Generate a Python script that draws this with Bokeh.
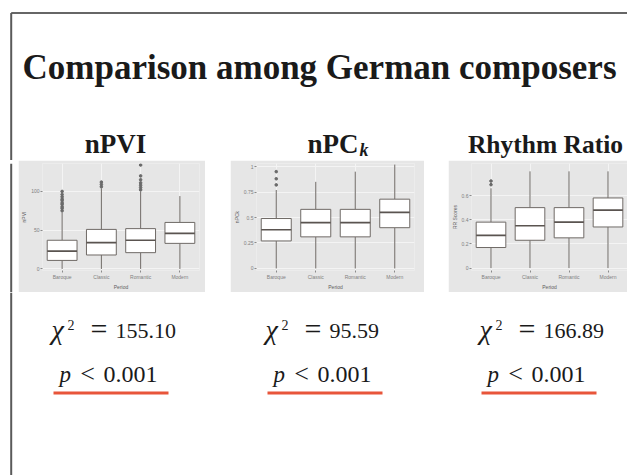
from bokeh.plotting import figure
from bokeh.models import ColumnDataSource, Range1d, FactorRange, Spacer, FixedTicker
from bokeh.layouts import column, row
from bokeh.core.properties import value
from bokeh.embed import file_html
from bokeh.resources import INLINE

# ---------------- data ----------------
title_text = "Comparison among German composers"
panel_titles = ["nPVI", "nPC", "Rhythm Ratio"]
npc_subscript = "k"
periods = ["Baroque", "Classic", "Romantic", "Modern"]
x_axis_title = "Period"
y_axis_titles = ["nPVI", "nPCk", "RR Scores"]

npvi_low = [0, 0, 0, 0]
npvi_q1 = [11, 18, 21, 33]
npvi_med = [23, 34, 37, 46]
npvi_q3 = [37, 51, 52, 60]
npvi_high = [73, 104, 100, 94]
npvi_out_cat = ["Baroque"] * 10 + ["Classic"] * 3 + ["Romantic"] * 7
npvi_out_val = [75, 78, 80, 83, 85, 88, 90, 93, 96, 100,
                106, 109, 112,
                102, 105, 108, 111, 115, 120, 134]
npvi_ticks = [0, 50, 100]

npc_low = [0, 0, 0, 0]
npc_q1 = [0.27, 0.31, 0.31, 0.40]
npc_med = [0.38, 0.45, 0.45, 0.55]
npc_q3 = [0.49, 0.58, 0.58, 0.68]
npc_high = [0.77, 0.85, 0.95, 1.02]
npc_out_cat = ["Baroque"] * 3
npc_out_val = [0.82, 0.88, 0.95]
npc_ticks = [0, 0.25, 0.5, 0.75, 1.0]

rr_low = [0, 0, 0, 0]
rr_q1 = [0.17, 0.23, 0.25, 0.34]
rr_med = [0.27, 0.35, 0.38, 0.48]
rr_q3 = [0.38, 0.50, 0.50, 0.58]
rr_high = [0.66, 0.80, 0.80, 0.80]
rr_out_cat = ["Baroque"] * 2
rr_out_val = [0.69, 0.72]
rr_ticks = [0, 0.2, 0.4, 0.6]

chi_symbol = "χ"
chi_power = "2"
chi_values = ["155.10", "95.59", "166.89"]
p_symbol = "p"
p_sign = "<"
p_values = ["0.001", "0.001", "0.001"]

# ---------------- styles ----------------
SERIF = value("Liberation Serif")
BOX_LINE = "#6f6a66"
PANEL_BG = "#e6e6e6"
RED = "#e8553a"
BORDER = "#5a5a5a"
INK = "#1a1a1a"
W = 627
BASE_SHIFT = 0.33  # fraction of font size by which the drawn baseline falls below y


def deco_fig(width, height, xr, yr):
    f = figure(width=width, height=height, x_range=xr, y_range=yr,
               toolbar_location=None, output_backend="svg",
               min_border=0, outline_line_color=None)
    f.axis.visible = False
    f.grid.visible = False
    return f


def put_text(f, xs, base, texts, size, style="normal", align="left"):
    f.text(x=xs, y=[base - BASE_SHIFT * size] * len(xs), text=texts,
           text_font=SERIF, text_font_style=style, text_font_size=f"{size}px",
           text_align=align, text_baseline="alphabetic", text_color=INK)


# ---------------- top: title + panel titles ----------------
TOP_H = 160
top = deco_fig(W, TOP_H, Range1d(0, W), Range1d(TOP_H, 0))
top.segment(x0=[10.7], y0=[12.5], x1=[W], y1=[12.5], line_color="#333333", line_width=1.6)
top.segment(x0=[10.7], y0=[12.5], x1=[10.7], y1=[TOP_H], line_color=BORDER, line_width=2)
put_text(top, [319], 79, [title_text], 35, "bold", "center")
put_text(top, [115], 152, [panel_titles[0]], 27, "bold", "center")
put_text(top, [358], 152, [panel_titles[1]], 27, "bold", "right")
put_text(top, [359], 155, [npc_subscript], 18, "bold italic", "left")
put_text(top, [545], 152, [panel_titles[2]], 25.5, "bold", "center")

# ---------------- middle: three box plots ----------------
MID_H = 132


def box_panel(width, low, q1, med, q3, high, out_cat, out_val, yr, ticks, ylab,
              b_left, b_right):
    f = figure(width=width, height=MID_H, x_range=FactorRange(*periods),
               y_range=yr, toolbar_location=None, output_backend="svg",
               min_border_left=b_left, min_border_right=b_right,
               min_border_top=3, min_border_bottom=16,
               background_fill_color=PANEL_BG, border_fill_color=PANEL_BG,
               outline_line_color=None)
    src = ColumnDataSource(dict(cat=periods, low=low, q1=q1, med=med, q3=q3, high=high))
    f.segment(x0="cat", y0="q3", x1="cat", y1="high", source=src,
              line_color=BOX_LINE, line_width=1)
    f.segment(x0="cat", y0="low", x1="cat", y1="q1", source=src,
              line_color=BOX_LINE, line_width=1)
    f.vbar(x="cat", bottom="q1", top="q3", width=0.76, source=src,
           fill_color="white", line_color=BOX_LINE, line_width=1)
    f.vbar(x="cat", bottom="med", top="med", width=0.76, source=src,
           fill_color=None, line_color="#5a5450", line_width=1.7)
    f.scatter(x=out_cat, y=out_val, size=2.6, fill_color="#6a6a6a",
              line_color="#6a6a6a")
    f.xgrid.grid_line_color = "#f4f4f4"
    f.ygrid.grid_line_color = "#f4f4f4"
    f.ygrid.ticker = FixedTicker(ticks=ticks)
    f.yaxis.ticker = FixedTicker(ticks=ticks)
    for ax in (f.xaxis[0], f.yaxis[0]):
        ax.axis_line_color = None
        ax.major_tick_line_color = "#8a8a8a"
        ax.major_tick_out = 2
        ax.major_tick_in = 0
        ax.minor_tick_line_color = None
        ax.major_label_text_font_size = "5px"
        ax.major_label_text_color = "#808080"
        ax.major_label_standoff = 1
        ax.axis_label_text_font_size = "5px"
        ax.axis_label_text_color = "#606060"
        ax.axis_label_text_font_style = "normal"
        ax.axis_label_standoff = 1
    f.xaxis.axis_label = x_axis_title
    f.yaxis.axis_label = ylab
    return f


p1 = box_panel(187, npvi_low, npvi_q1, npvi_med, npvi_q3, npvi_high,
               npvi_out_cat, npvi_out_val, Range1d(-2, 136), npvi_ticks,
               y_axis_titles[0], 18, 6)
p2 = box_panel(194, npc_low, npc_q1, npc_med, npc_q3, npc_high,
               npc_out_cat, npc_out_val, Range1d(-0.02, 1.03), npc_ticks,
               y_axis_titles[1], 18, 10)
p3 = box_panel(179, rr_low, rr_q1, rr_med, rr_q3, rr_high,
               rr_out_cat, rr_out_val, Range1d(-0.02, 0.865), rr_ticks,
               y_axis_titles[2], 18, 0)

# left slide border through the middle band (frame size pinned explicitly)
edge = figure(frame_width=18, frame_height=MID_H, x_range=Range1d(0, 18),
              y_range=Range1d(0, MID_H), toolbar_location=None,
              output_backend="svg", min_border=0, outline_line_color=None)
edge.axis.visible = False
edge.grid.visible = False
edge.quad(left=[9.7], right=[11.7], bottom=[0], top=[MID_H],
          fill_color=BORDER, line_color=None)

mid = row(edge, p1, Spacer(width=25, height=MID_H, margin=0), p2,
          Spacer(width=24, height=MID_H, margin=0), p3)

# ---------------- bottom: statistics ----------------
BOT_H = 183
bot = deco_fig(W, BOT_H, Range1d(0, W), Range1d(BOT_H, 0))
bot.segment(x0=[10.7], y0=[0], x1=[10.7], y1=[BOT_H], line_color=BORDER, line_width=2)

starts = [52, 266, 480]
chi_base, p_base, line_y = 46, 90, 100.5

put_text(bot, [s - 1 for s in starts], chi_base, [chi_symbol] * 3, 28, "italic")
put_text(bot, [s + 15 for s in starts], chi_base - 9, [chi_power] * 3, 14)
put_text(bot, [s + 46.5 for s in starts], chi_base, ["="] * 3, 30, "normal", "center")
put_text(bot, [s + 63 for s in starts], chi_base, chi_values, 22)

put_text(bot, [s + 7 for s in starts], p_base, [p_symbol] * 3, 23, "italic")
put_text(bot, [s + 35 for s in starts], p_base, [p_sign] * 3, 26, "normal", "center")
put_text(bot, [s + 51 for s in starts], p_base, p_values, 24)
bot.segment(x0=[s + 1 for s in starts], y0=[line_y] * 3,
            x1=[s + 116 for s in starts], y1=[line_y] * 3,
            line_color=RED, line_width=3)

layout = column(top, mid, bot)

open("out.html", "w").write(file_html(layout, INLINE))
